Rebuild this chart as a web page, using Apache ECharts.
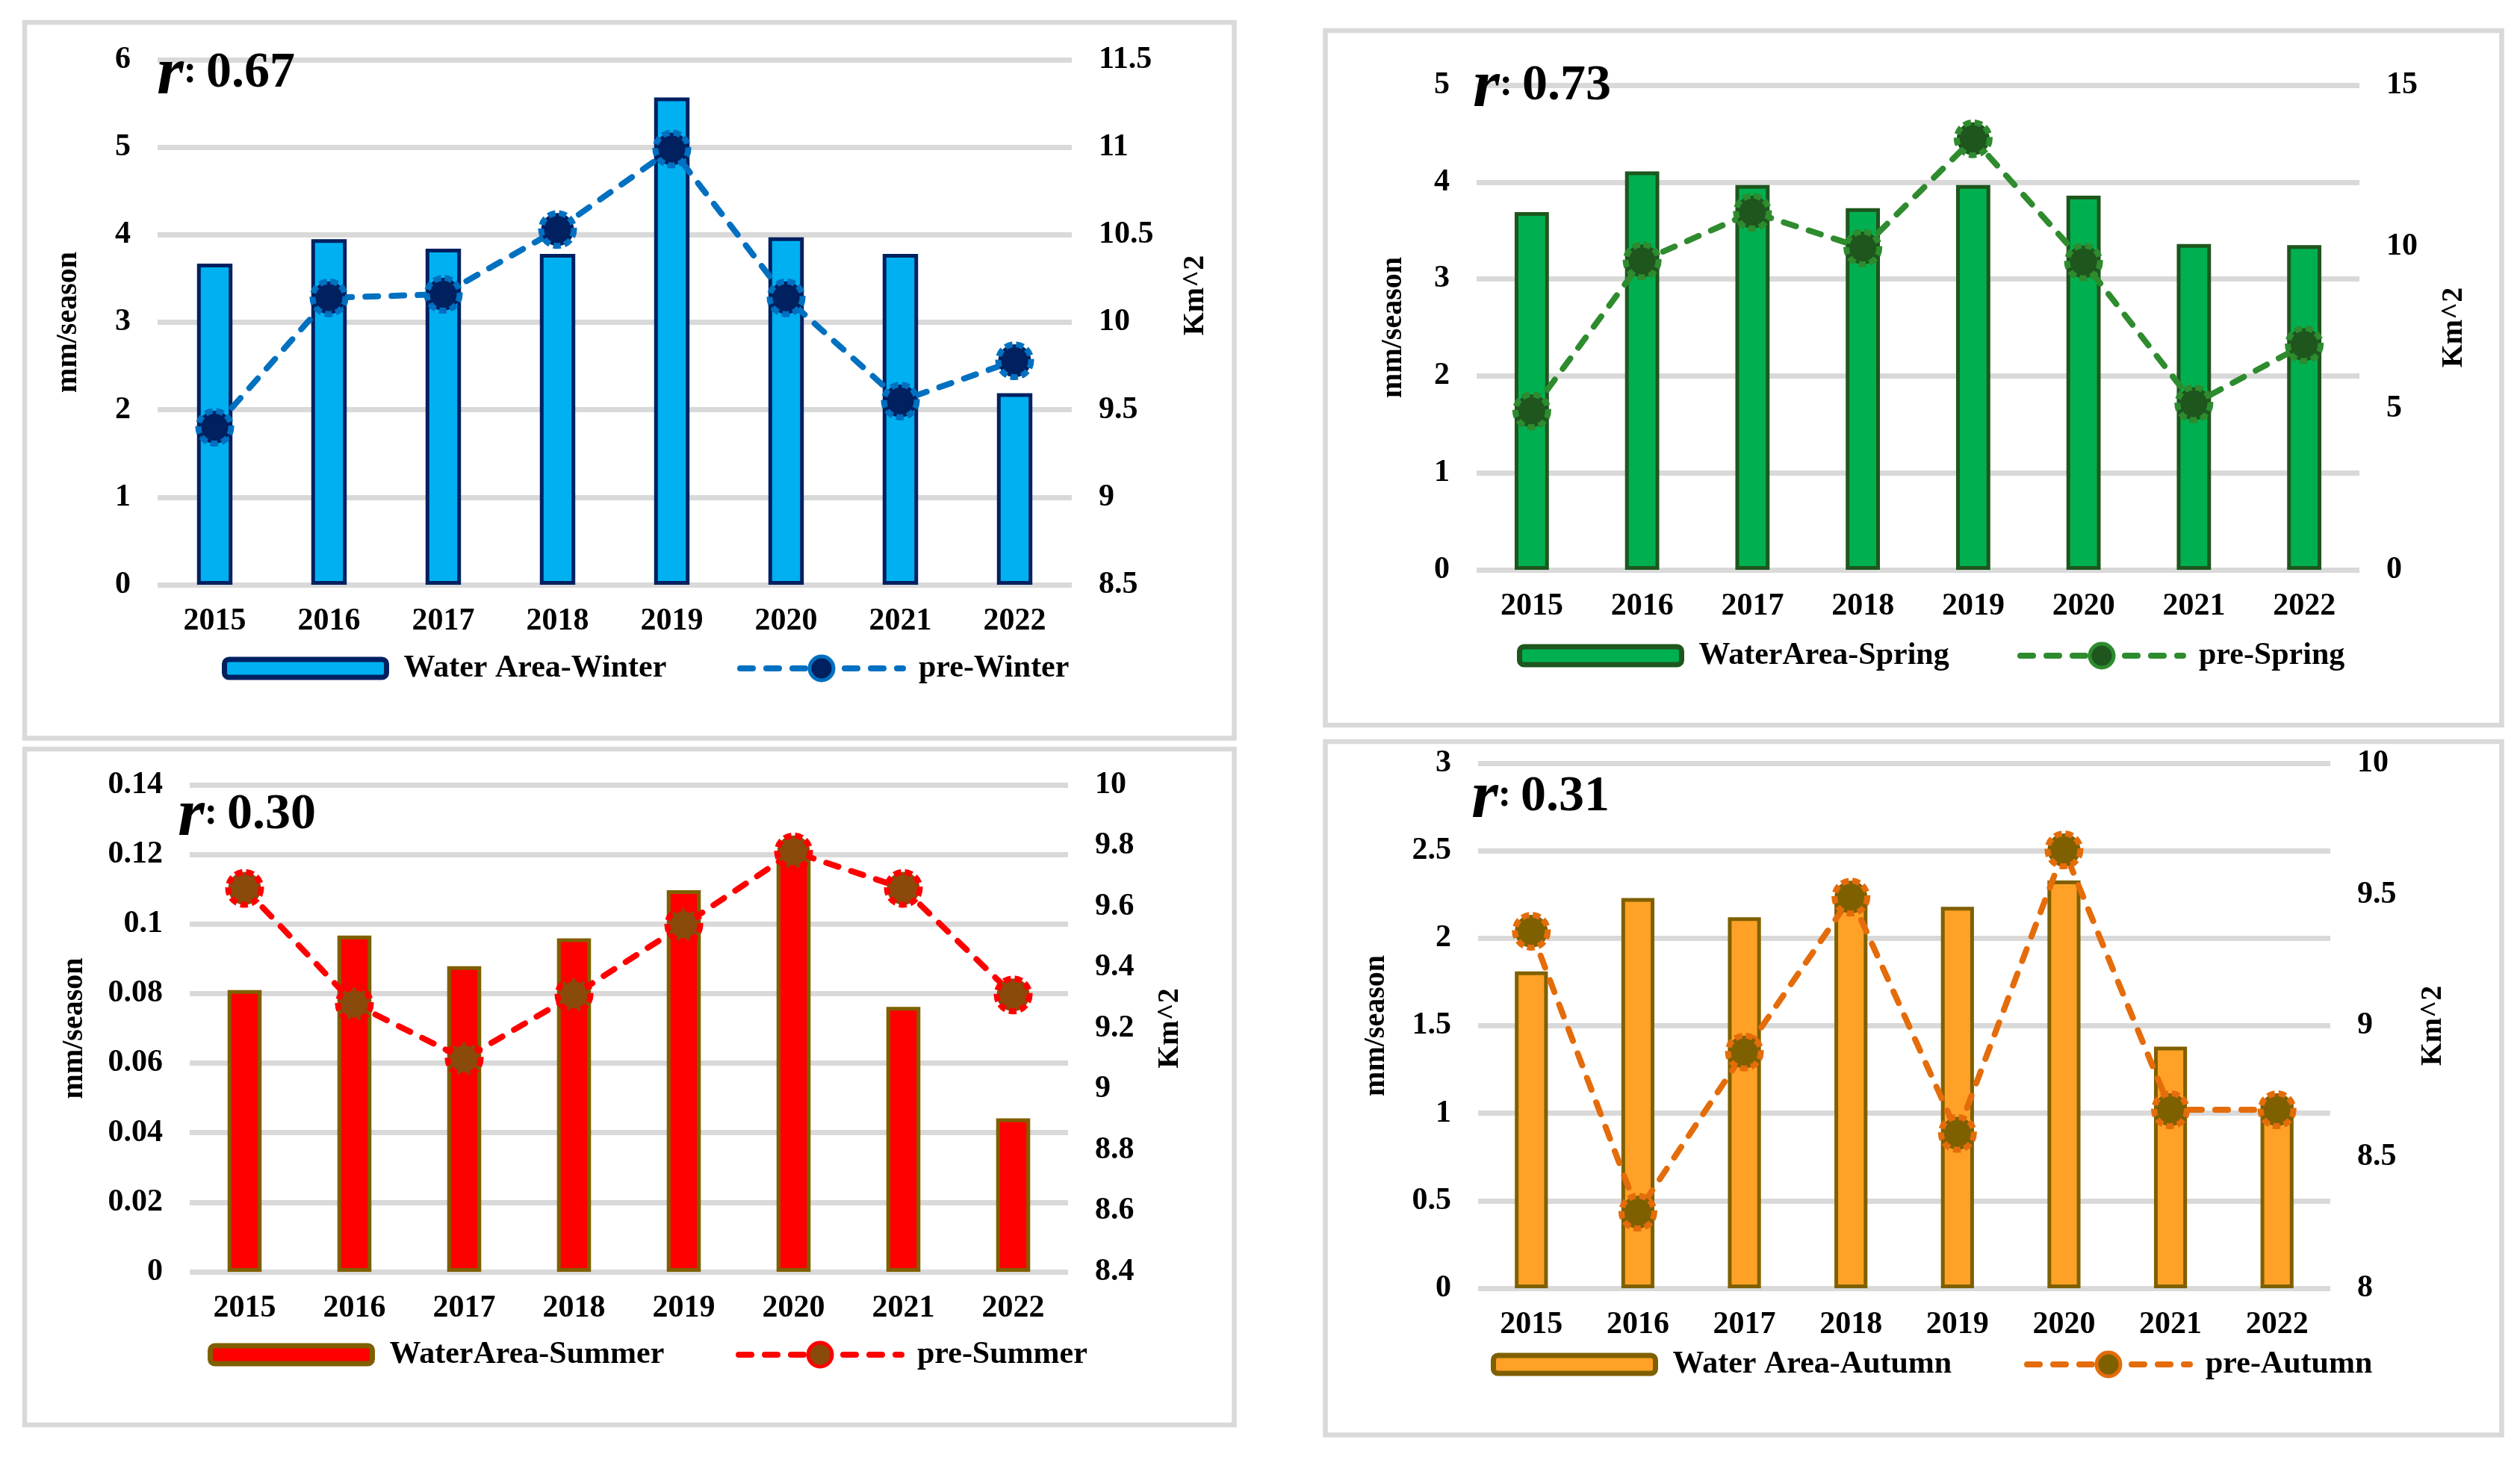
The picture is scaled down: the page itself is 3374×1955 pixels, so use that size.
<!DOCTYPE html>
<html>
<head>
<meta charset="utf-8">
<script src="https://cdn.jsdelivr.net/npm/echarts@6/dist/echarts.min.js"></script>
<style>
  html, body { margin: 0; padding: 0; background: #fff; }
  #chart { width: 3374px; height: 1955px; }
</style>
</head>
<body>
<div id="chart"></div>
<script>
// values
const years = ['2015', '2016', '2017', '2018', '2019', '2020', '2021', '2022'];

const winterArea = [3.67, 3.95, 3.84, 3.78, 5.57, 3.97, 3.78, 2.19];
const winterPre = [9.40, 10.14, 10.16, 10.53, 10.99, 10.14, 9.55, 9.78];

const springArea = [3.69, 4.11, 3.97, 3.73, 3.97, 3.86, 3.36, 3.35];
const springPre = [4.92, 9.56, 11.07, 9.96, 13.34, 9.53, 5.14, 6.97];

const summerArea = [0.081, 0.0967, 0.0879, 0.0959, 0.1097, 0.119, 0.0762, 0.0441];
const summerPre = [9.66, 9.28, 9.10, 9.31, 9.54, 9.78, 9.66, 9.31];

const autumnArea = [1.81, 2.23, 2.12, 2.23, 2.18, 2.33, 1.38, 1.07];
const autumnPre = [9.36, 8.29, 8.90, 9.49, 8.59, 9.67, 8.68, 8.68];

const rValues = ['0.67', '0.73', '0.30', '0.31'];

const FONT = 'Liberation Serif';

// one entry per panel: layout + look
const panels = [
  {
    bar: 'Water Area-Winter', line: 'pre-Winter', area: winterArea, pre: winterPre, r: rValues[0],
    grid: { left: 211, top: 80, width: 1224, height: 703 },
    left: { min: 0, max: 6, interval: 1 }, right: { min: 8.5, max: 11.5, interval: 0.5 },
    nameGapL: 99, nameGapR: 146, nameShiftR: 72,
    frame: [33, 30, 1619.5, 958.5], rPos: [210, 147],
    legBar: [297, 895], legLine: [987, 895],
    barColor: '#00B0F0', barBorder: '#002060', lineColor: '#0070C0', dotColor: '#002060'
  },
  {
    bar: 'WaterArea-Spring', line: 'pre-Spring', area: springArea, pre: springPre, r: rValues[1],
    grid: { left: 1977, top: 114, width: 1182, height: 649 },
    left: { min: 0, max: 5, interval: 1 }, right: { min: 0, max: 15, interval: 5 },
    nameGapL: 91, nameGapR: 107, nameShiftR: 0,
    frame: [1774.5, 41, 1575, 930], rPos: [1972, 164],
    legBar: [2031, 878], legLine: [2701, 878],
    barColor: '#00B050', barBorder: '#1E561E', lineColor: '#2E8B2E', dotColor: '#1E561E'
  },
  {
    bar: 'WaterArea-Summer', line: 'pre-Summer', area: summerArea, pre: summerPre, r: rValues[2],
    grid: { left: 254, top: 1051, width: 1176, height: 652 },
    left: { min: 0, max: 0.14, interval: 0.02 }, right: { min: 8.4, max: 10, interval: 0.2 },
    nameGapL: 134, nameGapR: 117, nameShiftR: 0,
    frame: [33, 1003, 1619.5, 905], rPos: [238, 1140],
    legBar: [278, 1814], legLine: [985, 1814],
    barColor: '#FF0000', barBorder: '#7F6000', lineColor: '#FF0000', dotColor: '#8A4A0C'
  },
  {
    bar: 'Water Area-Autumn', line: 'pre-Autumn', area: autumnArea, pre: autumnPre, r: rValues[3],
    grid: { left: 1979, top: 1022, width: 1141, height: 703 },
    left: { min: 0, max: 3, interval: 0.5 }, right: { min: 8, max: 10, interval: 0.5 },
    nameGapL: 116, nameGapR: 118, nameShiftR: 0,
    frame: [1774.5, 993, 1575, 928.5], rPos: [1970, 1116],
    legBar: [1996, 1827], legLine: [2710, 1827],
    barColor: '#FFA126', barBorder: '#7F6000', lineColor: '#E46C0A', dotColor: '#7F6000'
  }
];

const labelStyle = { fontFamily: FONT, fontWeight: 'bold', fontSize: 42, color: '#000' };
const nameStyle = { fontFamily: FONT, fontWeight: 'bold', fontSize: 40, color: '#000' };
const dash = [17, 18];

const grid = [], xAxis = [], yAxis = [], series = [], legend = [], graphic = [];

panels.forEach((p, i) => {
  grid.push(p.grid);
  xAxis.push({
    type: 'category', gridIndex: i, data: years,
    axisLine: { show: false }, axisTick: { show: false },
    axisLabel: Object.assign({ margin: 28 }, labelStyle),
    splitLine: { show: false }
  });
  yAxis.push({
    type: 'value', gridIndex: i, position: 'left',
    min: p.left.min, max: p.left.max, interval: p.left.interval,
    name: 'mm/season', nameLocation: 'middle', nameGap: p.nameGapL, nameRotate: 90,
    nameTextStyle: nameStyle,
    axisLine: { show: false }, axisTick: { show: false },
    axisLabel: Object.assign({ margin: 36 }, labelStyle),
    splitLine: { show: true, lineStyle: { color: '#D9D9D9', width: 7 } }
  });
  yAxis.push({
    type: 'value', gridIndex: i, position: 'right',
    min: p.right.min, max: p.right.max, interval: p.right.interval,
    name: 'Km^2', nameLocation: 'middle', nameGap: p.nameGapR, nameRotate: 90,
    nameTextStyle: Object.assign({ padding: [0, 0, 0, p.nameShiftR] }, nameStyle),
    axisLine: { show: false }, axisTick: { show: false },
    axisLabel: Object.assign({ margin: 36 }, labelStyle),
    splitLine: { show: false }
  });
  series.push({
    name: p.bar, type: 'bar', xAxisIndex: i, yAxisIndex: i * 2,
    data: p.area, barWidth: '31%',
    itemStyle: { color: p.barColor, borderColor: p.barBorder, borderWidth: 5 }
  });
  series.push({
    name: p.line, type: 'line', xAxisIndex: i, yAxisIndex: i * 2 + 1,
    data: p.pre, symbol: 'circle', symbolSize: 44,
    lineStyle: { color: p.lineColor, width: 8, type: dash, cap: 'round' },
    itemStyle: { color: p.dotColor, borderColor: p.lineColor, borderWidth: 8, borderType: [10, 5] },
    z: 3
  });
  legend.push({
    data: [p.bar], left: p.legBar[0], top: p.legBar[1] - 22,
    itemWidth: 217, itemHeight: 24, padding: 0,
    itemStyle: { borderWidth: 7 },
    textStyle: Object.assign({ padding: [0, 0, 0, 18], lineHeight: 44 }, labelStyle)
  });
  legend.push({
    data: [p.line], left: p.legLine[0], top: p.legLine[1] - 22,
    itemWidth: 218, itemHeight: 40, padding: 0,
    itemStyle: { borderWidth: 5 },
    lineStyle: { color: p.lineColor, width: 8, type: dash, cap: 'round' },
    textStyle: Object.assign({ padding: [0, 0, 0, 16], lineHeight: 44 }, labelStyle)
  });
  graphic.push({
    type: 'rect', silent: true,
    shape: { x: p.frame[0], y: p.frame[1], width: p.frame[2], height: p.frame[3] },
    style: { fill: 'none', stroke: '#D9D9D9', lineWidth: 6.5 }
  });
  graphic.push({
    type: 'text', silent: true, z: 10,
    style: {
      x: p.rPos[0], y: p.rPos[1], verticalAlign: 'bottom',
      text: '{r|r}{c|: }{v|' + p.r + '}',
      rich: {
        r: { fontFamily: FONT, fontStyle: 'italic', fontWeight: 'bold', fontSize: 92, fill: '#000' },
        c: { fontFamily: FONT, fontWeight: 'bold', fontSize: 52, fill: '#000', padding: [0, 0, 8, 0] },
        v: { fontFamily: FONT, fontWeight: 'bold', fontSize: 68, fill: '#000', padding: [0, 0, 6, 0] }
      }
    }
  });
});

const chart = echarts.init(document.getElementById('chart'), null, { renderer: 'canvas' });
chart.setOption({
  backgroundColor: '#fff',
  animation: false,
  grid, xAxis, yAxis, series, legend, graphic
});
</script>
</body>
</html>
